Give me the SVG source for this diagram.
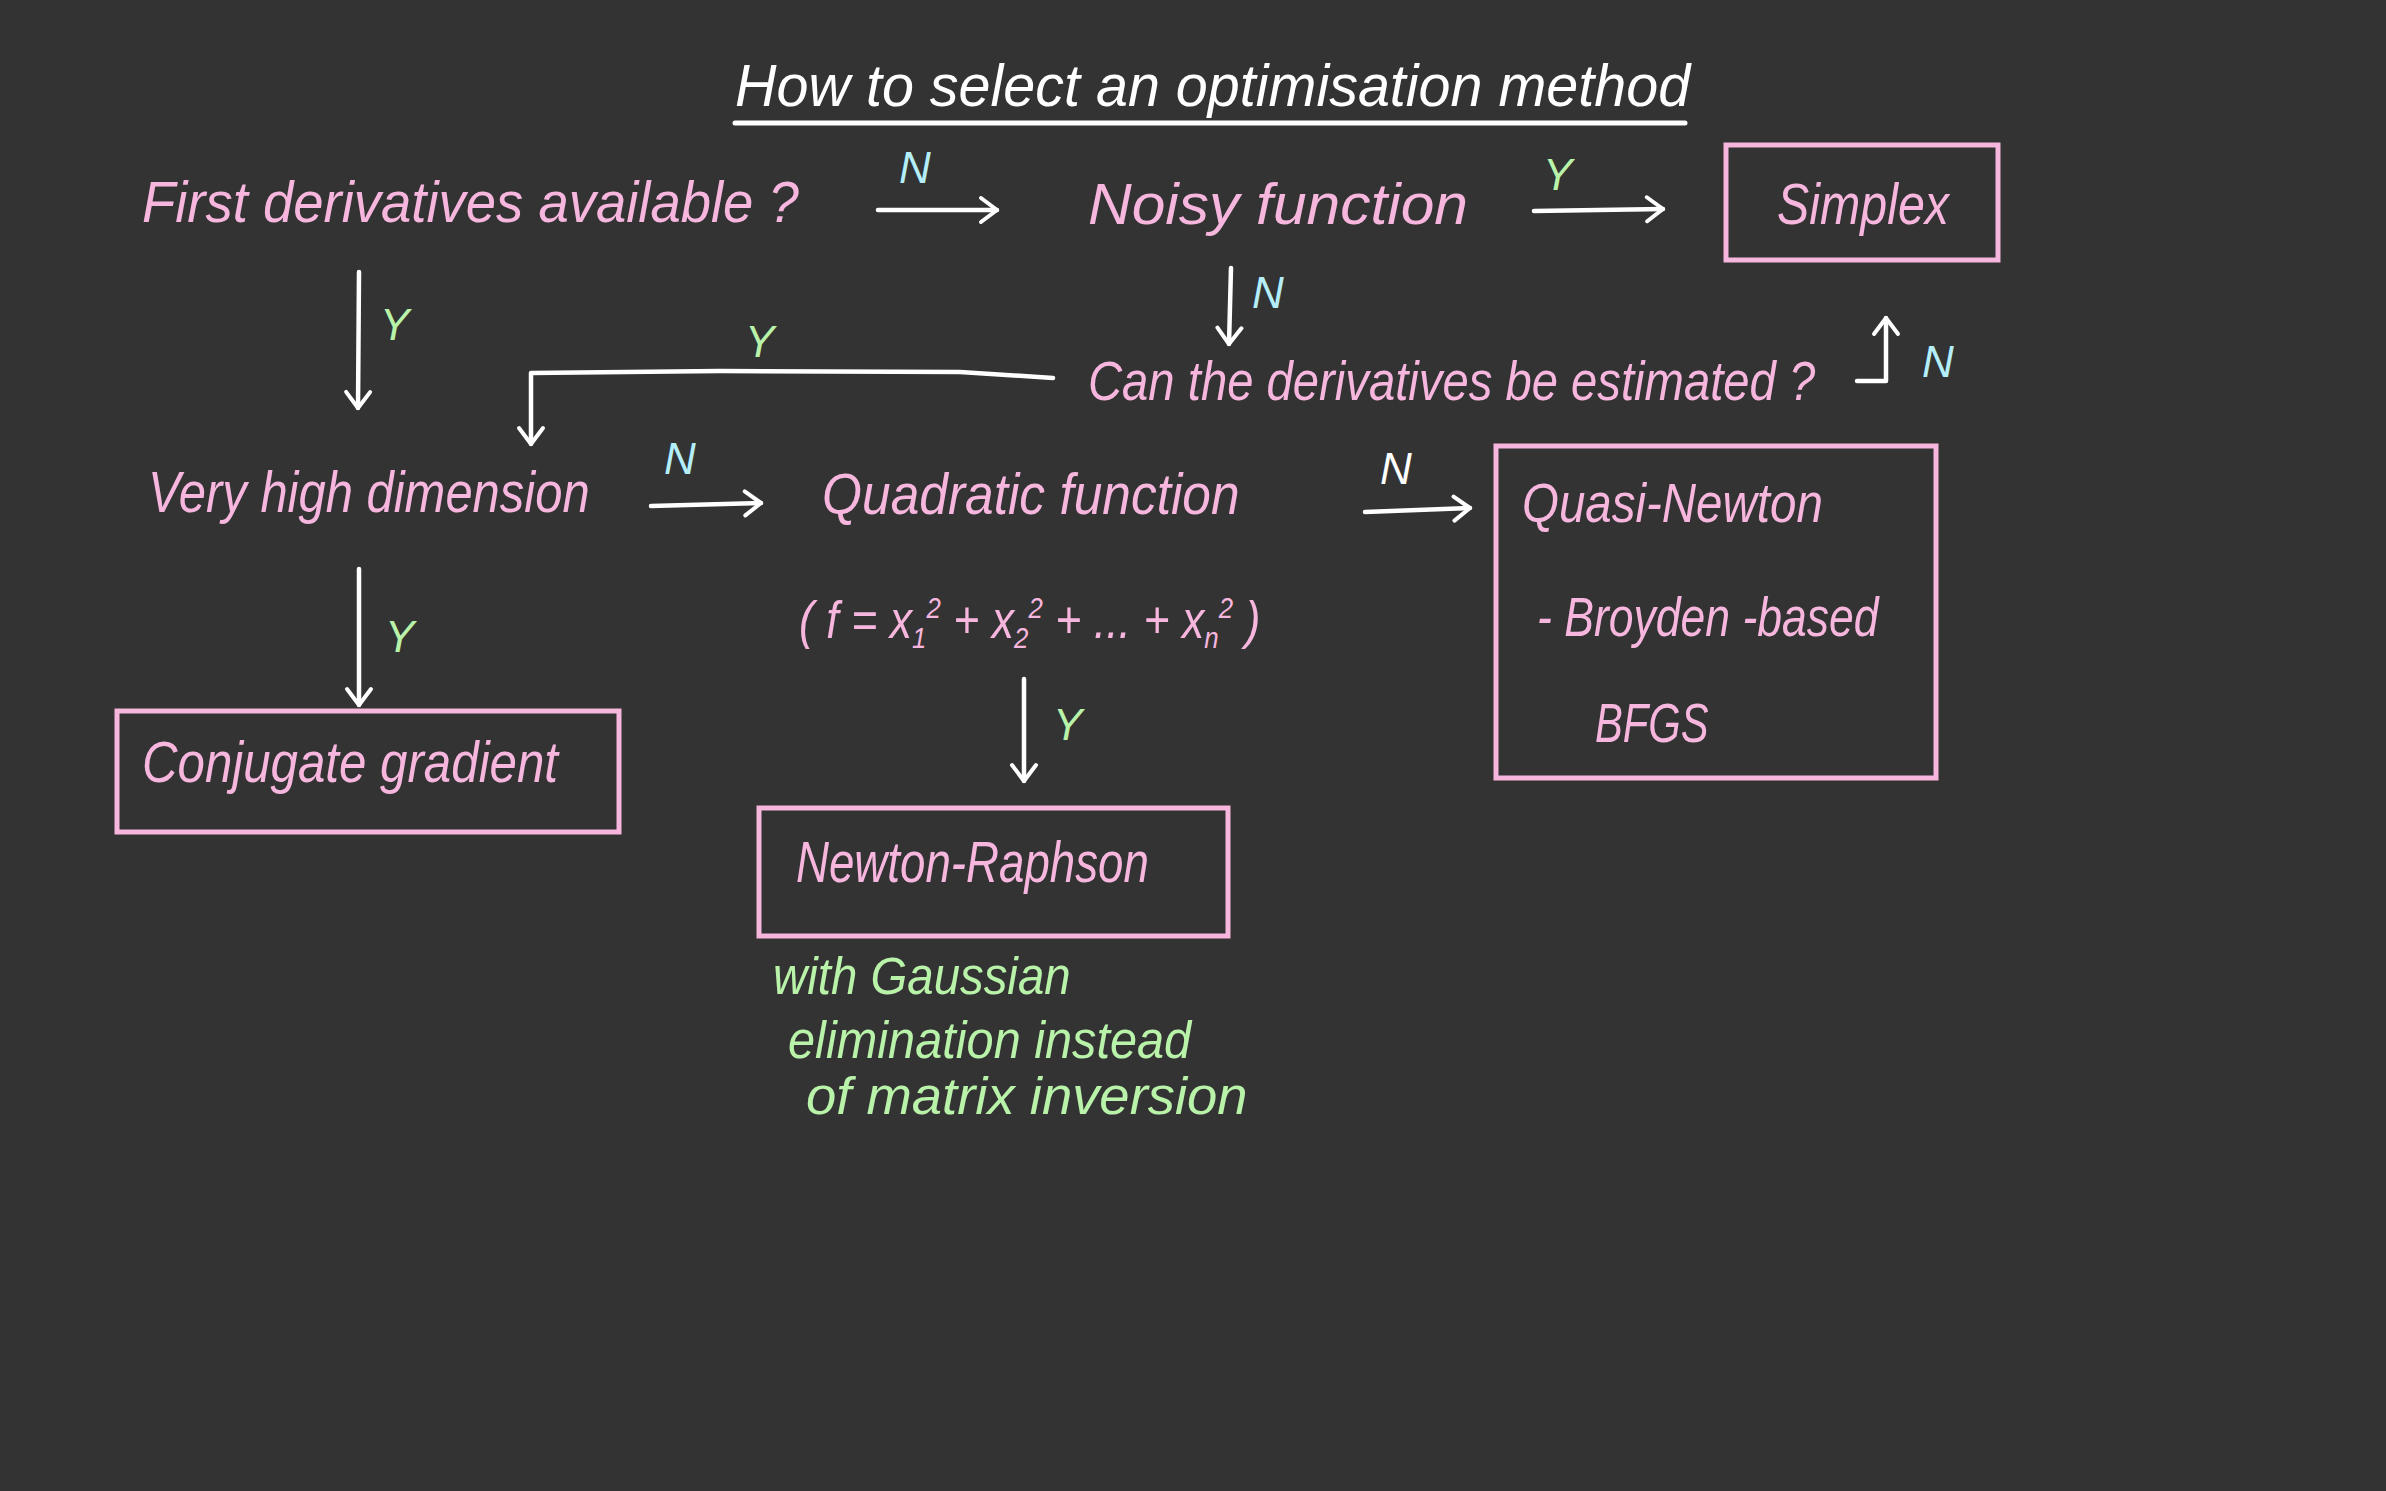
<svg xmlns="http://www.w3.org/2000/svg" width="2386" height="1491" viewBox="0 0 2386 1491">
<defs>
<style>
.bg{fill:#333333}
.t{font-family:"Liberation Sans",Arial,sans-serif;font-style:italic}
.pk{fill:#f7b6de}
.gr{fill:#b9f2a9}
.cy{fill:#b3eef9}
.wh{fill:#ffffff}
.box{fill:none;stroke:#f7b6de;stroke-width:5}
.ln{fill:none;stroke:#ffffff;stroke-width:4.5;stroke-linecap:round;stroke-linejoin:round}
</style>
<marker id="ah" viewBox="0 0 22 30" refX="19" refY="15" markerWidth="22" markerHeight="30" markerUnits="userSpaceOnUse" orient="auto">
<path d="M3,3 L19,15 L3,27" fill="none" stroke="#ffffff" stroke-width="4" stroke-linecap="round" stroke-linejoin="round"/>
</marker>
</defs>
<rect class="bg" x="0" y="0" width="2386" height="1491"/>

<g id="title">
<text class="t wh" transform="translate(735,106) scale(0.8,1)" font-size="60" textLength="1194" lengthAdjust="spacingAndGlyphs">How to select an optimisation method</text>
<line x1="735" y1="123" x2="1685" y2="123" stroke="#ffffff" stroke-width="5" stroke-linecap="round"/>
</g>

<g id="first-derivatives">
<text class="t pk" transform="translate(142,222) scale(0.8,1)" font-size="58" textLength="821" lengthAdjust="spacingAndGlyphs">First derivatives available ?</text>
</g>
<g id="noisy-function">
<text class="t pk" transform="translate(1088,224) scale(0.8,1)" font-size="58" textLength="475" lengthAdjust="spacingAndGlyphs">Noisy function</text>
</g>
<g id="simplex">
<rect class="box" x="1726" y="145" width="272" height="115"/>
<text class="t pk" transform="translate(1777,224) scale(0.8,1)" font-size="58" textLength="215" lengthAdjust="spacingAndGlyphs">Simplex</text>
</g>
<g id="estimate">
<text class="t pk" transform="translate(1088,400) scale(0.8,1)" font-size="56" textLength="909" lengthAdjust="spacingAndGlyphs">Can the derivatives be estimated ?</text>
</g>
<g id="high-dimension">
<text class="t pk" transform="translate(148,512) scale(0.8,1)" font-size="58" textLength="552" lengthAdjust="spacingAndGlyphs">Very high dimension</text>
</g>
<g id="quadratic">
<text class="t pk" transform="translate(822,514) scale(0.8,1)" font-size="58" textLength="522" lengthAdjust="spacingAndGlyphs">Quadratic function</text>
<text class="t pk" transform="translate(799,638) scale(0.86,1)" font-size="52">( f = x<tspan font-size="30" dy="10">1</tspan><tspan font-size="30" dy="-30">2</tspan><tspan dy="20"> + x</tspan><tspan font-size="30" dy="10">2</tspan><tspan font-size="30" dy="-30">2</tspan><tspan dy="20"> + ... + x</tspan><tspan font-size="30" dy="10">n</tspan><tspan font-size="30" dy="-30">2</tspan><tspan dy="20"> )</tspan></text>
</g>
<g id="quasi-newton">
<rect class="box" x="1496" y="446" width="440" height="332"/>
<text class="t pk" transform="translate(1522,522) scale(0.8,1)" font-size="56" textLength="376" lengthAdjust="spacingAndGlyphs">Quasi-Newton</text>
<text class="t pk" transform="translate(1537,636) scale(0.8,1)" font-size="56" textLength="427" lengthAdjust="spacingAndGlyphs">- Broyden -based</text>
<text class="t pk" transform="translate(1595,742) scale(0.8,1)" font-size="56" textLength="142" lengthAdjust="spacingAndGlyphs">BFGS</text>
</g>
<g id="conjugate-gradient">
<rect class="box" x="117" y="711" width="502" height="121"/>
<text class="t pk" transform="translate(142,782) scale(0.8,1)" font-size="58" textLength="520" lengthAdjust="spacingAndGlyphs">Conjugate gradient</text>
</g>
<g id="newton-raphson">
<rect class="box" x="759" y="808" width="469" height="128"/>
<text class="t pk" transform="translate(796,882) scale(0.8,1)" font-size="58" textLength="441" lengthAdjust="spacingAndGlyphs">Newton-Raphson</text>
</g>
<g id="note">
<text class="t gr" transform="translate(773,994) scale(0.8,1)" font-size="52" textLength="372" lengthAdjust="spacingAndGlyphs">with Gaussian</text>
<text class="t gr" transform="translate(788,1058) scale(0.8,1)" font-size="52" textLength="504" lengthAdjust="spacingAndGlyphs">elimination instead</text>
<text class="t gr" transform="translate(806,1114) scale(0.8,1)" font-size="52" textLength="552" lengthAdjust="spacingAndGlyphs">of matrix inversion</text>
</g>

<g id="connectors">
<line class="ln" x1="878" y1="210" x2="997" y2="210" marker-end="url(#ah)"/>
<text class="t cy" x="899" y="183" font-size="44">N</text>
<line class="ln" x1="1534" y1="211" x2="1663" y2="209" marker-end="url(#ah)"/>
<text class="t gr" x="1543" y="190" font-size="44">Y</text>
<line class="ln" x1="1231" y1="268" x2="1229" y2="344" marker-end="url(#ah)"/>
<text class="t cy" x="1252" y="308" font-size="44">N</text>
<polyline class="ln" points="1857,381 1886,381 1886,318" marker-end="url(#ah)"/>
<text class="t cy" x="1922" y="377" font-size="44">N</text>
<polyline class="ln" points="1053,378 960,372 720,371 531,373 531,444" marker-end="url(#ah)"/>
<text class="t gr" x="745" y="357" font-size="44">Y</text>
<line class="ln" x1="359" y1="272" x2="358" y2="408" marker-end="url(#ah)"/>
<text class="t gr" x="380" y="340" font-size="44">Y</text>
<line class="ln" x1="651" y1="506" x2="761" y2="503" marker-end="url(#ah)"/>
<text class="t cy" x="664" y="474" font-size="44">N</text>
<line class="ln" x1="1365" y1="512" x2="1470" y2="508" marker-end="url(#ah)"/>
<text class="t wh" x="1380" y="484" font-size="44">N</text>
<line class="ln" x1="359" y1="569" x2="359" y2="705" marker-end="url(#ah)"/>
<text class="t gr" x="385" y="652" font-size="44">Y</text>
<line class="ln" x1="1024" y1="679" x2="1024" y2="781" marker-end="url(#ah)"/>
<text class="t gr" x="1053" y="740" font-size="44">Y</text>
</g>
</svg>
